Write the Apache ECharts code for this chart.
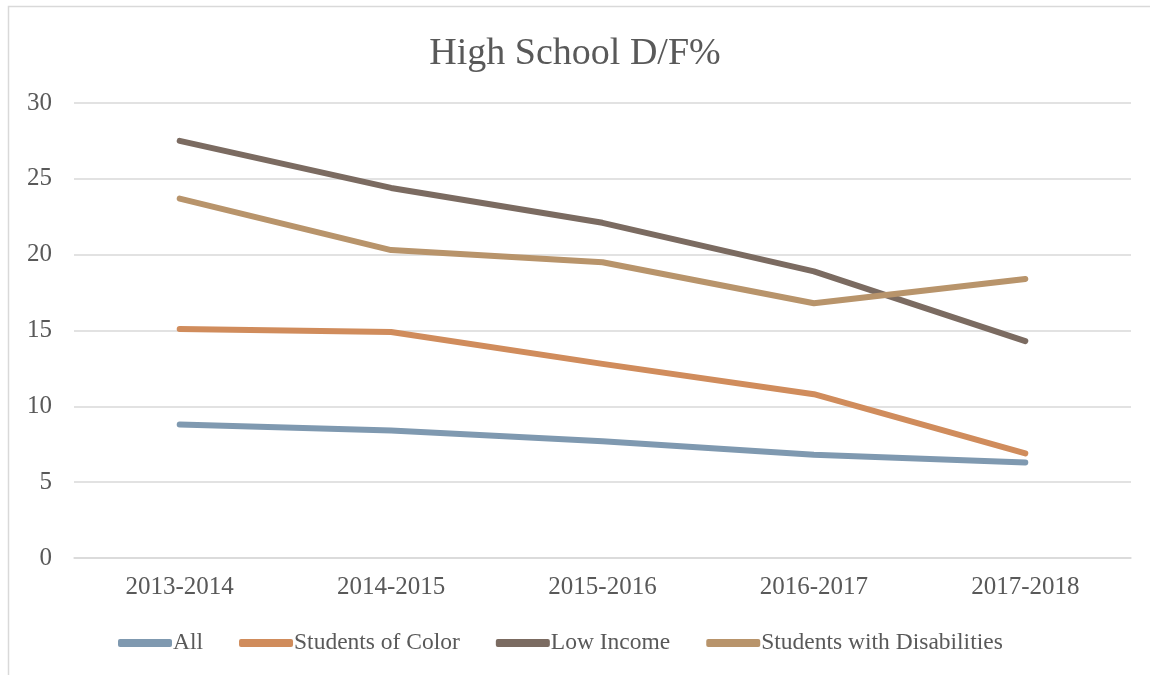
<!DOCTYPE html>
<html>
<head>
<meta charset="utf-8">
<script src="https://cdn.jsdelivr.net/npm/echarts@6/dist/echarts.min.js"></script>
<style>html,body{margin:0;padding:0;background:#fff;}#c{width:1150px;height:675px;}</style>
</head>
<body>
<div id="c"></div>
<script>
const categories = ['2013-2014', '2014-2015', '2015-2016', '2016-2017', '2017-2018'];
const allStudents = [8.8, 8.4, 7.7, 6.8, 6.3];
const studentsOfColor = [15.1, 14.9, 12.8, 10.8, 6.9];
const lowIncome = [27.5, 24.4, 22.1, 18.9, 14.3];
const disabilities = [23.7, 20.3, 19.5, 16.8, 18.4];
const seriesNames = ['All', 'Students of Color', 'Low Income', 'Students with Disabilities'];
const colors = ['#7f99b0', '#d08c5c', '#7b6b61', '#b8946b'];
const yTicks = { min: 0, max: 30, interval: 5 };

const font = '"Liberation Serif", "DejaVu Serif", serif';
const chart = echarts.init(document.getElementById('c'));
const seriesData = [allStudents, studentsOfColor, lowIncome, disabilities];
chart.setOption({
  animation: false,
  backgroundColor: '#fff',
  graphic: [{
    type: 'rect', shape: { x: 8.5, y: 6.5, width: 1160, height: 680 },
    style: { fill: 'none', stroke: '#d9d9d9', lineWidth: 1.5 }, silent: true
  }],
  title: {
    text: 'High School D/F%', left: 'center', top: 30,
    textStyle: { fontFamily: font, fontSize: 38, fontWeight: 'normal', color: '#595959' }
  },
  grid: { left: 74, right: 19, top: 103, bottom: 117, containLabel: false },
  xAxis: {
    type: 'category', data: categories, boundaryGap: true,
    axisLine: { show: true, lineStyle: { color: '#d9d9d9', width: 1.5 } },
    axisTick: { show: false },
    axisLabel: { fontFamily: font, fontSize: 25, color: '#595959', margin: 17 }
  },
  yAxis: {
    type: 'value', min: yTicks.min, max: yTicks.max, interval: yTicks.interval,
    axisLine: { show: false }, axisTick: { show: false },
    splitLine: { lineStyle: { color: '#d9d9d9', width: 1.5 } },
    axisLabel: { fontFamily: font, fontSize: 25, color: '#595959', margin: 22 }
  },
  legend: {
    bottom: 15, left: 113, itemWidth: 54, itemHeight: 8, itemGap: 36,
    icon: 'roundRect',
    textStyle: { fontFamily: font, fontSize: 23.5, color: '#595959', padding: [0, 0, 0, -4] },
    data: seriesNames
  },
  series: seriesNames.map((n, i) => ({
    name: n, type: 'line', data: seriesData[i], symbol: 'none',
    lineStyle: { width: 6, color: colors[i], cap: 'round', join: 'round' },
    itemStyle: { color: colors[i] }
  }))
});
</script>
</body>
</html>
